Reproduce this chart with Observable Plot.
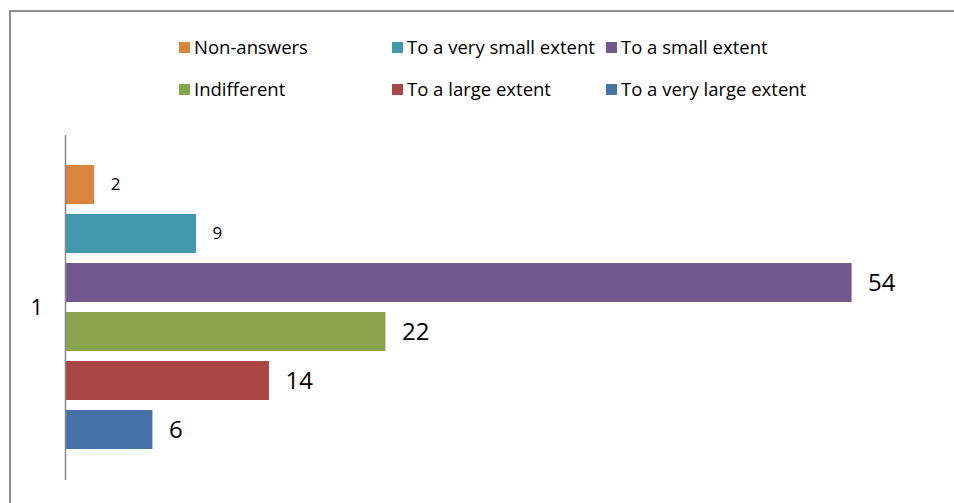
<!DOCTYPE html>
<html>
<head>
<meta charset="utf-8">
<script src="https://cdn.jsdelivr.net/npm/d3@7"></script>
<script src="https://cdn.jsdelivr.net/npm/@observablehq/plot@0.6"></script>
<style>
  html, body { margin: 0; padding: 0; background: #fff; }
  body { width: 954px; height: 503px; overflow: hidden; position: relative; font-family: "Open Sans", "Noto Sans", sans-serif; }
  #frame { position: absolute; left: 9px; top: 10px; width: 960px; height: 520px; border-left: 2px solid #8c8c8c; border-top: 2px solid #8c8c8c; }
  .leg { position: absolute; font-size: 18.5px; color: #000; display: flex; align-items: center; white-space: nowrap; line-height: 1; }
  .sw { width: 11px; height: 11px; margin-right: 4px; flex: none; }
  #chart { position: absolute; left: 0; top: 121px; }
</style>
</head>
<body>
<div id="frame"></div>
<div id="legend"></div>
<div id="chart"></div>
<script>
const categories = ["1"];
const series = ["Non-answers", "To a very small extent", "To a small extent", "Indifferent", "To a large extent", "To a very large extent"];
const values = [2, 9, 54, 22, 14, 6];
const colors = ["#DB843D", "#4198AF", "#71588F", "#89A54E", "#AA4643", "#4572A7"];

const data = series.map((s, i) => ({series: s, value: values[i], category: categories[0]}));

// legend (3 columns x 2 rows)
const legPos = [[179, 47.5], [392, 47.5], [606, 47.5], [179, 89], [392, 89], [606, 89]];
const legend = document.getElementById("legend");
series.forEach((s, i) => {
  const d = document.createElement("div");
  d.className = "leg";
  d.style.left = legPos[i][0] + "px";
  d.style.top = (legPos[i][1] - 11) + "px";
  d.style.height = "22px";
  d.innerHTML = `<span class="sw" style="background:${colors[i]}"></span><span>${s}</span>`;
  legend.appendChild(d);
});

const plot = Plot.plot({
  width: 954,
  height: 382,
  marginLeft: 65,
  marginRight: 15,
  marginTop: 14,
  marginBottom: 23,
  style: {fontFamily: "'Open Sans', 'Noto Sans', sans-serif", background: "transparent"},
  x: {domain: [0, 60], axis: null},
  y: {domain: series, axis: null, paddingInner: 0.2, paddingOuter: 0.585},
  color: {domain: series, range: colors},
  marks: [
    Plot.barX(data, {x: "value", y: "series", fill: "series"}),
    Plot.text(data, {
      x: "value", y: "series", text: d => String(d.value),
      dx: 16, textAnchor: "start", fill: "#000",
      fontSize: (d, i) => (i < 2 ? 17 : 24)
    }),
    Plot.ruleX([0], {stroke: "#868686", strokeWidth: 1.5}),
    Plot.text(categories, {frameAnchor: "left", dx: -35, text: d => d, fontSize: 22, fill: "#000"})
  ]
});
document.getElementById("chart").appendChild(plot);
</script>
</body>
</html>
